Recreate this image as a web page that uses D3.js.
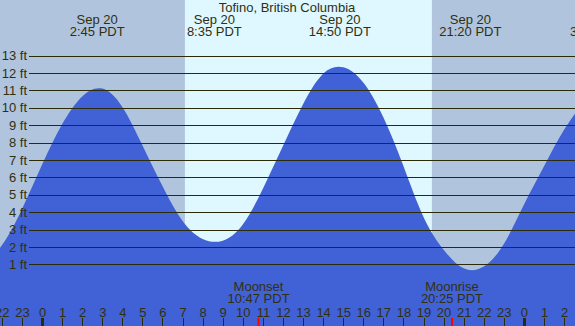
<!DOCTYPE html>
<html><head><meta charset="utf-8">
<script src="https://cdn.jsdelivr.net/npm/d3@7"></script>
<style>
html,body{margin:0;padding:0;background:#b0c4de;}
svg{display:block;}
text{font-family:"Liberation Sans",Arial,sans-serif;font-size:13px;fill:#303010;}
</style></head><body>
<svg id="c" width="575" height="326"></svg>
<script>
// ---- data (hours since 00:00 Sep 20, PDT) ----
const title = "Tofino, British Columbia";
const tideHours  = [-3,-2,-1,0,1,2,3,4,5,6,7,8,9,10,11,12,13,14,15,16,17,18,19,20,21,22,23,24,25,26,27];
const tideLevels = [0.95,2.1,4.17,6.72,9.05,10.65,11.1,10.05,7.85,5.5,3.5,2.47,2.37,3.3,5.35,7.8,10.2,11.95,12.32,11.45,9.45,6.65,3.73,1.85,0.78,0.88,2.18,4.43,6.64,8.74,10.35];
const sunTimes = [7.117, 19.417];               // sunrise, sunset
const extremeTimes = [2.75, 8.583, 14.833, 21.333, 27.667];
const extremeDates = ["Sep 20","Sep 20","Sep 20","Sep 20","Sep 21"];
const extremeLabels = ["2:45 PDT","8:35 PDT","14:50 PDT","21:20 PDT","3:40 PDT"];
const moonNames = ["Moonset","Moonrise"];
const moonTimes = [10.783, 20.417];
const moonLabels = ["10:47 PDT","20:25 PDT"];
const levelTicks = [1,2,3,4,5,6,7,8,9,10,11,12,13];
const hourTicks = [-2,-1,0,1,2,3,4,5,6,7,8,9,10,11,12,13,14,15,16,17,18,19,20,21,22,23,24,25,26];

// ---- layout ----
const W = 575, H = 326;
const svg = d3.select("#c");
const x = d3.scaleLinear().domain([-2.0916, 26.544]).range([0, W]);
const y = d3.scaleLinear().domain([0, 13]).range([281.9, 55.5]);

// background night/day
svg.append("rect").attr("width", W).attr("height", H).attr("fill", "#b0c4de");
svg.append("rect").attr("x", x(sunTimes[0])).attr("y", 0)
  .attr("width", x(sunTimes[1]) - x(sunTimes[0])).attr("height", H).attr("fill", "#dff7ff");

// water
const pts = tideHours.map((h, i) => [h, tideLevels[i]]);
const area = d3.area().x(d => x(d[0])).y0(H).y1(d => y(d[1])).curve(d3.curveNatural);
svg.append("path").datum(pts).attr("d", area).attr("fill", "#4161d6");

// level lines + labels
const yAxis = d3.axisLeft(y).tickValues(levelTicks).tickSize(-(W - 29)).tickPadding(2)
  .tickFormat(d => d + " ft");
const gy = svg.append("g").attr("transform", "translate(29,0)").call(yAxis);
gy.select(".domain").remove();
gy.selectAll(".tick line").attr("stroke", "#2b2b08").attr("stroke-width", 1).attr("shape-rendering", "crispEdges");
gy.selectAll(".tick text").attr("fill", "#303010").style("font-size", "13px")
  .style("font-family", '"Liberation Sans",Arial,sans-serif');

// hour axis at bottom
const xAxis = d3.axisTop(x).tickValues(hourTicks).tickSize(8).tickPadding(1)
  .tickFormat(h => ((h % 24) + 24) % 24);
const gx = svg.append("g").attr("transform", `translate(0,${H})`).call(xAxis);
gx.select(".domain").remove();
gx.selectAll(".tick line").attr("stroke", "#2b2b08").attr("shape-rendering", "crispEdges")
  .attr("stroke-width", h => (h % 24 === 0 ? 3 : 1));
gx.selectAll(".tick text").attr("fill", "#303010").style("font-size", "13px")
  .style("font-family", '"Liberation Sans",Arial,sans-serif');

// moon events
moonTimes.forEach((t, i) => {
  svg.append("line").attr("x1", x(t)).attr("x2", x(t)).attr("y1", H - 8).attr("y2", H)
    .attr("stroke", "#ff0000").attr("stroke-width", 2);
  svg.append("text").attr("x", x(t)).attr("y", 291).attr("text-anchor", "middle").text(moonNames[i]);
  svg.append("text").attr("x", x(t)).attr("y", 303).attr("text-anchor", "middle").text(moonLabels[i]);
});

// title + extremes
svg.append("text").attr("x", 287).attr("y", 12).attr("text-anchor", "middle").text(title);
extremeTimes.forEach((t, i) => {
  svg.append("text").attr("x", x(t)).attr("y", 24).attr("text-anchor", "middle").text(extremeDates[i]);
  svg.append("text").attr("x", x(t)).attr("y", 36).attr("text-anchor", "middle").text(extremeLabels[i]);
});
</script>
</body></html>
